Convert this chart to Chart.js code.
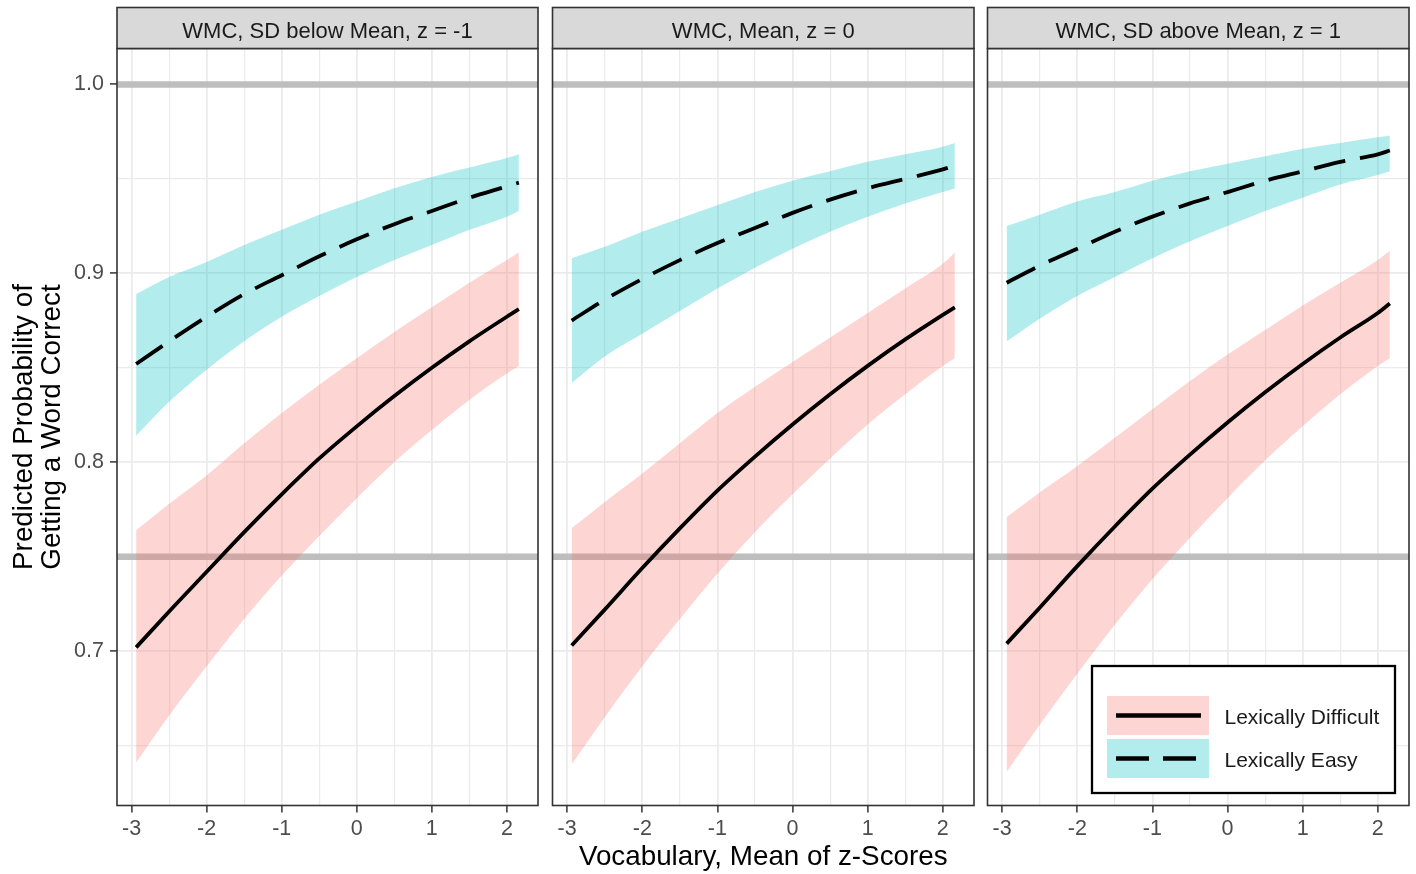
<!DOCTYPE html>
<html>
<head>
<meta charset="utf-8">
<title>Predicted probability by vocabulary and WMC</title>
<script src="https://cdn.jsdelivr.net/npm/chart.js@4.4.1/dist/chart.umd.min.js"></script>
<style>
  html, body { margin: 0; padding: 0; background: #fff; }
  #wrap { position: relative; width: 1416px; height: 874px; }
  #wrap canvas { position: absolute; left: 0; top: 0; }
</style>
</head>
<body>
<div id="wrap">
  <canvas id="panel1" width="1416" height="874"></canvas>
  <canvas id="panel2" width="1416" height="874"></canvas>
  <canvas id="panel3" width="1416" height="874"></canvas>
</div>
<script>
const FONT = "'Liberation Sans', Arial, Helvetica, sans-serif";

// vocabulary (mean of z-scores) where the curves were read
const vocab = [-2.94, -2.5, -2, -1.5, -1, -0.5, 0, 0.5, 1, 1.5, 2, 2.16];

const panelTitles = [
  "WMC, SD below Mean, z = -1",
  "WMC, Mean, z = 0",
  "WMC, SD above Mean, z = 1",
];
const legendLabels = ["Lexically Difficult", "Lexically Easy"];

const xTicks = [-3, -2.5, -2, -1.5, -1, -0.5, 0, 0.5, 1, 1.5, 2]; // whole numbers get a label
const yTicks = [0.65, 0.7, 0.75, 0.8, 0.85, 0.9, 0.95, 1.0];      // tenths get a label
const refLines = [0.75, 1.0];

// z = -1
const diffFit1 = [0.702, 0.721, 0.742, 0.763, 0.783, 0.802, 0.819, 0.835, 0.850, 0.864, 0.877, 0.881];
const diffLo1  = [0.641, 0.666, 0.692, 0.717, 0.740, 0.761, 0.781, 0.800, 0.817, 0.833, 0.847, 0.851];
const diffHi1  = [0.764, 0.778, 0.793, 0.810, 0.826, 0.841, 0.855, 0.869, 0.882, 0.895, 0.907, 0.911];
const easyFit1 = [0.852, 0.864, 0.877, 0.889, 0.899, 0.909, 0.918, 0.926, 0.933, 0.940, 0.946, 0.948];
const easyLo1  = [0.814, 0.832, 0.849, 0.864, 0.877, 0.888, 0.898, 0.907, 0.915, 0.923, 0.930, 0.933];
const easyHi1  = [0.889, 0.898, 0.906, 0.915, 0.923, 0.931, 0.938, 0.945, 0.951, 0.956, 0.961, 0.963];

// z = 0
const diffFit2 = [0.703, 0.722, 0.744, 0.765, 0.785, 0.803, 0.820, 0.836, 0.851, 0.865, 0.878, 0.882];
const diffLo2  = [0.640, 0.665, 0.692, 0.717, 0.741, 0.763, 0.783, 0.802, 0.820, 0.836, 0.851, 0.855];
const diffHi2  = [0.765, 0.779, 0.794, 0.810, 0.826, 0.840, 0.853, 0.866, 0.879, 0.892, 0.905, 0.911];
const easyFit2 = [0.875, 0.886, 0.897, 0.907, 0.916, 0.924, 0.932, 0.939, 0.945, 0.950, 0.955, 0.957];
const easyLo2  = [0.842, 0.856, 0.868, 0.880, 0.892, 0.903, 0.913, 0.922, 0.930, 0.937, 0.943, 0.945];
const easyHi2  = [0.908, 0.914, 0.922, 0.929, 0.936, 0.943, 0.949, 0.954, 0.959, 0.963, 0.967, 0.969];

// z = 1
const diffFit3 = [0.704, 0.723, 0.745, 0.766, 0.786, 0.804, 0.821, 0.837, 0.852, 0.866, 0.879, 0.884];
const diffLo3  = [0.636, 0.661, 0.688, 0.714, 0.738, 0.760, 0.781, 0.801, 0.819, 0.836, 0.851, 0.855];
const diffHi3  = [0.771, 0.784, 0.798, 0.813, 0.828, 0.843, 0.857, 0.870, 0.883, 0.895, 0.907, 0.912];
const easyFit3 = [0.895, 0.904, 0.913, 0.922, 0.930, 0.937, 0.943, 0.949, 0.954, 0.959, 0.963, 0.965];
const easyLo3  = [0.864, 0.876, 0.888, 0.898, 0.908, 0.917, 0.925, 0.933, 0.940, 0.947, 0.952, 0.954];
const easyHi3  = [0.925, 0.931, 0.938, 0.943, 0.949, 0.954, 0.958, 0.962, 0.966, 0.969, 0.972, 0.973];

const panels = [
  { id: "panel1", title: panelTitles[0], diffFit: diffFit1, diffLo: diffLo1, diffHi: diffHi1, easyFit: easyFit1, easyLo: easyLo1, easyHi: easyHi1 },
  { id: "panel2", title: panelTitles[1], diffFit: diffFit2, diffLo: diffLo2, diffHi: diffHi2, easyFit: easyFit2, easyLo: easyLo2, easyHi: easyHi2 },
  { id: "panel3", title: panelTitles[2], diffFit: diffFit3, diffLo: diffLo3, diffHi: diffHi3, easyFit: easyFit3, easyLo: easyLo3, easyHi: easyHi3 },
];

// where each panel sits on the page
const W = 1416, H = 874;
const panelLeft = [117, 552.5, 987.5];
const panelRight = [538, 974, 1409];
const stripTop = 7.5, panelTop = 48.5, panelBottom = 805.5;

const PINK = "rgba(248, 118, 109, 0.3)";
const CYAN = "rgba(0, 191, 196, 0.3)";
const DASH = [32, 15];

const isWhole = (v) => Math.abs(v - Math.round(v)) < 1e-9;
const isTenth = (v) => Math.abs(v * 10 - Math.round(v * 10)) < 1e-6;

const pts = (ys) => vocab.map((x, i) => ({ x: x, y: ys[i] }));

// grey hlines under ribbons, panel border and facet strip on top
const panelDecor = {
  id: "panelDecor",
  beforeDatasetsDraw(chart) {
    const { ctx, chartArea: a, scales } = chart;
    ctx.save();
    ctx.beginPath();
    ctx.rect(a.left, a.top, a.right - a.left, a.bottom - a.top);
    ctx.clip();
    ctx.strokeStyle = "#BEBEBE";
    ctx.lineWidth = 6.5;
    refLines.forEach((v) => {
      const py = scales.y.getPixelForValue(v);
      ctx.beginPath();
      ctx.moveTo(a.left, py);
      ctx.lineTo(a.right, py);
      ctx.stroke();
    });
    ctx.restore();
  },
  afterDraw(chart, args, opts) {
    const { ctx, chartArea: a } = chart;
    ctx.save();
    ctx.strokeStyle = "#333333";
    ctx.lineWidth = 1.6;
    ctx.strokeRect(a.left, a.top, a.right - a.left, a.bottom - a.top);
    ctx.fillStyle = "#D9D9D9";
    ctx.fillRect(a.left, stripTop, a.right - a.left, a.top - stripTop);
    ctx.strokeRect(a.left, stripTop, a.right - a.left, a.top - stripTop);
    ctx.fillStyle = "#1A1A1A";
    ctx.font = "22px " + FONT;
    ctx.textAlign = "center";
    ctx.textBaseline = "alphabetic";
    ctx.fillText(opts.title, (a.left + a.right) / 2, 37.5);
    ctx.restore();
  },
};

// legend box inside the last panel
const insideLegend = {
  id: "insideLegend",
  afterDraw(chart) {
    const { ctx, chartArea: a } = chart;
    const right = a.right - 14, bottom = a.bottom - 12.5;
    const left = right - 303, top = bottom - 127;
    ctx.save();
    ctx.fillStyle = "#ffffff";
    ctx.fillRect(left, top, right - left, bottom - top);
    ctx.strokeStyle = "#000000";
    ctx.lineWidth = 2.3;
    ctx.strokeRect(left, top, right - left, bottom - top);

    const keyX = left + 15, keyW = 102, keyH = 39;
    const rows = [
      { y: top + 30, fill: PINK, dash: [] },
      { y: top + 73, fill: CYAN, dash: [33, 14] },
    ];
    rows.forEach((r, i) => {
      ctx.fillStyle = r.fill;
      ctx.fillRect(keyX, r.y, keyW, keyH);
      ctx.strokeStyle = "#000000";
      ctx.lineWidth = 4.5;
      ctx.lineCap = "butt";
      ctx.setLineDash(r.dash);
      ctx.beginPath();
      ctx.moveTo(keyX + 9, r.y + keyH / 2);
      ctx.lineTo(keyX + 94, r.y + keyH / 2);
      ctx.stroke();
      ctx.setLineDash([]);
      ctx.fillStyle = "#1A1A1A";
      ctx.font = "21px " + FONT;
      ctx.textAlign = "left";
      ctx.textBaseline = "alphabetic";
      ctx.fillText(legendLabels[i], left + 132.5, r.y + 28);
    });
    ctx.restore();
  },
};

const makePanel = (p, idx) => {
  const first = idx === 0;
  const middle = idx === 1;
  const last = idx === 2;
  const ctx = document.getElementById(p.id).getContext("2d");

  return new Chart(ctx, {
    type: "line",
    data: {
      datasets: [
        { label: legendLabels[0], data: pts(p.diffFit), borderColor: "#000", borderWidth: 3.8, pointRadius: 0, fill: false },
        { label: legendLabels[1], data: pts(p.easyFit), borderColor: "#000", borderWidth: 3.8, borderDash: DASH, pointRadius: 0, fill: false },
        { label: "difficult upper", data: pts(p.diffHi), borderColor: "transparent", borderWidth: 0, pointRadius: 0, backgroundColor: PINK, fill: "+1" },
        { label: "difficult lower", data: pts(p.diffLo), borderColor: "transparent", borderWidth: 0, pointRadius: 0, fill: false },
        { label: "easy upper", data: pts(p.easyHi), borderColor: "transparent", borderWidth: 0, pointRadius: 0, backgroundColor: CYAN, fill: "+1" },
        { label: "easy lower", data: pts(p.easyLo), borderColor: "transparent", borderWidth: 0, pointRadius: 0, fill: false },
      ],
    },
    options: {
      responsive: false,
      animation: false,
      devicePixelRatio: 1,
      events: [],
      elements: { line: { cubicInterpolationMode: "monotone", borderCapStyle: "butt" } },
      layout: {
        padding: { left: first ? 0 : panelLeft[idx], right: W - panelRight[idx], top: panelTop, bottom: 0 },
      },
      plugins: {
        legend: { display: false },
        tooltip: { enabled: false },
        panelDecor: { title: p.title },
      },
      scales: {
        x: {
          type: "linear",
          min: -3.195,
          max: 2.415,
          afterBuildTicks: (scale) => { scale.ticks = xTicks.map((v) => ({ value: v })); },
          afterFit: (scale) => { scale.height = H - panelBottom; },
          border: { display: false },
          grid: {
            color: "#EBEBEB",
            lineWidth: (c) => (isWhole(c.tick.value) ? 1.8 : 1.2),
            tickLength: 7,
            tickWidth: 1.5,
            tickColor: (c) => (isWhole(c.tick.value) ? "#333333" : "rgba(0,0,0,0)"),
          },
          ticks: {
            autoSkip: false,
            maxRotation: 0,
            padding: 4,
            color: "#4D4D4D",
            font: { family: FONT, size: 21.5 },
            callback: (v) => (isWhole(v) ? String(Math.round(v)) : ""),
          },
          title: {
            display: middle,
            text: "Vocabulary, Mean of z-Scores",
            color: "#000",
            font: { family: FONT, size: 27.8, lineHeight: 1.0 },
            padding: { top: 0, bottom: 3 },
          },
        },
        y: {
          type: "linear",
          min: 0.6183,
          max: 1.019,
          afterBuildTicks: (scale) => { scale.ticks = yTicks.map((v) => ({ value: v })); },
          afterFit: (scale) => { scale.width = first ? panelLeft[0] : 0; },
          border: { display: false },
          grid: {
            color: "#EBEBEB",
            lineWidth: (c) => (isTenth(c.tick.value) ? 1.8 : 1.2),
            drawTicks: first,
            tickLength: 7,
            tickWidth: 1.5,
            tickColor: (c) => (isTenth(c.tick.value) ? "#333333" : "rgba(0,0,0,0)"),
          },
          ticks: {
            display: first,
            autoSkip: false,
            padding: 6,
            color: "#4D4D4D",
            font: { family: FONT, size: 21.5 },
            callback: (v) => (isTenth(v) ? v.toFixed(1) : ""),
          },
          title: {
            display: first,
            text: ["Predicted Probability of", "Getting a Word Correct"],
            color: "#000",
            font: { family: FONT, size: 27.8, lineHeight: 1.02 },
            padding: { top: 10, bottom: 0 },
          },
        },
      },
    },
    plugins: last ? [panelDecor, insideLegend] : [panelDecor],
  });
};

panels.forEach(makePanel);
</script>
</body>
</html>
